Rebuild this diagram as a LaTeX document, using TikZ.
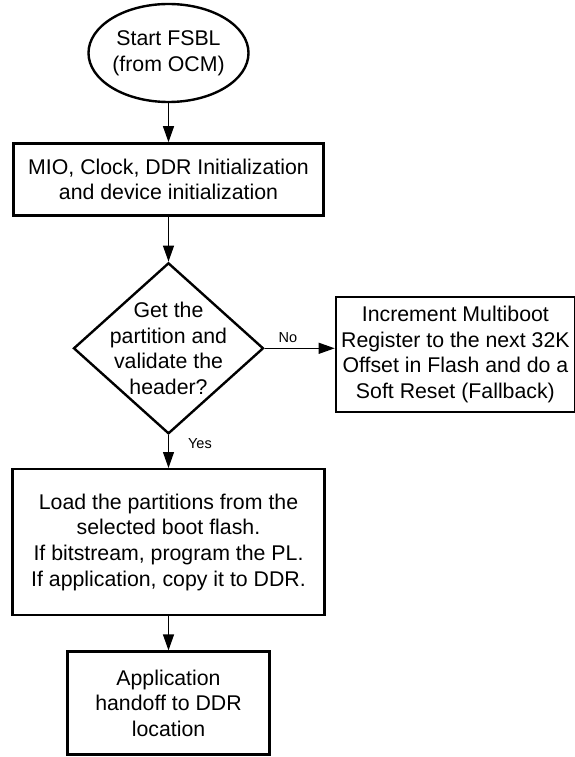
\documentclass[tikz,border=0pt]{standalone}
\usepackage{fontspec}
\setmainfont{Liberation Sans}
\usetikzlibrary{shapes,arrows.meta,positioning}

\begin{document}
\begin{tikzpicture}[
    node distance=40pt,
    >={Triangle[length=16pt,width=11pt]},
    every node/.style={font=\fontsize{21.3pt}{25.6pt}\selectfont},
    terminal/.style={draw, ellipse, line width=2.4pt, minimum width=160pt, minimum height=98pt, inner sep=0pt, align=center},
    process/.style={draw, rectangle, line width=2.4pt, inner sep=0pt, align=center},
    decision/.style={draw, diamond, line width=2.4pt, minimum width=190pt, minimum height=171pt, inner sep=-15pt, align=center},
    flow/.style={->, line width=1.2pt},
    answer/.style={font=\fontsize{14.5pt}{17pt}\selectfont, inner sep=1pt}
]
    \useasboundingbox (0,0) rectangle (575pt,-757pt);

    \node[terminal] (start) at (168.5pt,-53pt) {Start FSBL\\(from OCM)};
    \node[process, below=39pt of start, minimum width=310pt, minimum height=72pt] (init) {MIO, Clock, DDR Initialization\\and device initialization};
    \node[decision, below=45pt of init] (check) {Get the\\partition and\\validate the\\header?};
    \node[process, right=70pt of check, yshift=-6pt, minimum width=239pt, minimum height=115pt] (fallback) {Increment Multiboot\\Register to the next 32K\\Offset in Flash and do a\\Soft Reset (Fallback)};
    \node[process, below=33pt of check, minimum width=312pt, minimum height=146pt] (load) {Load the partitions from the\\selected boot flash.\\If bitstream, program the PL.\\If application, copy it to DDR.};
    \node[process, below=34pt of load, minimum width=202pt, minimum height=103pt] (app) {Application\\handoff to DDR\\location};

    \draw[flow] (start) -- (init);
    \draw[flow] (init) -- (check);
    \draw[flow] (check) -- node[answer, pos=0.33, above=4pt] {No} (check.east -| fallback.west);
    \draw[flow] (check) -- node[answer, pos=0.25, right=18pt] {Yes} (load);
    \draw[flow] (load) -- (app);
\end{tikzpicture}
\end{document}
